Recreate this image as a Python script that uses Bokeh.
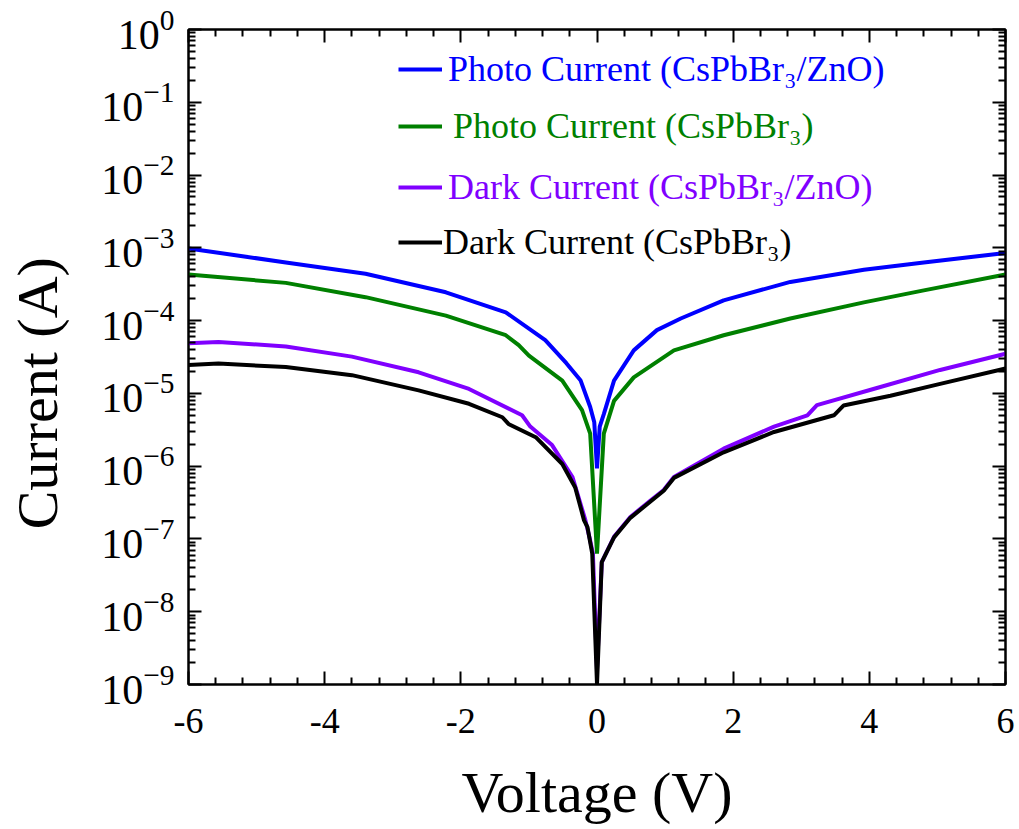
from bokeh.plotting import figure
from bokeh.models import (Range1d, LinearAxis, LogAxis, FixedTicker,
                          CustomJSTickFormatter, Legend, LegendItem)
from bokeh.embed import file_html
from bokeh.resources import INLINE

FONT = "Liberation Serif"

# ---------------- data ----------------
x_ticks = [-6, -4, -2, 0, 2, 4, 6]
x_minor = [-5.6, -5.2, -4.8, -4.4, -3.6, -3.2, -2.8, -2.4, -1.6, -1.2, -0.8, -0.4,
           0.4, 0.8, 1.2, 1.6, 2.4, 2.8, 3.2, 3.6, 4.4, 4.8, 5.2, 5.6]
y_ticks = [1e-9, 1e-8, 1e-7, 1e-6, 1e-5, 1e-4, 1e-3, 1e-2, 1e-1, 1e0]
y_minor = [m * 10.0 ** e for e in range(-9, 0) for m in range(2, 10)]

v_photo_zno = [-6.0, -4.57, -3.40, -2.22, -1.34, -0.76, -0.45, -0.24, -0.10, -0.04,
               0.0, 0.04, 0.10, 0.25, 0.54, 0.88, 1.23, 1.86, 2.84, 3.92, 4.80, 6.0]
i_photo_zno = [9.8e-4, 6.3e-4, 4.4e-4, 2.45e-4, 1.3e-4, 5.4e-5, 2.6e-5, 1.5e-5, 6.5e-6, 4.0e-6,
               9.3e-7, 3.5e-6, 5.2e-6, 1.5e-5, 3.9e-5, 7.4e-5, 1.07e-4, 1.9e-4, 3.4e-4, 5.0e-4, 6.3e-4, 8.5e-4]

v_photo = [-6.0, -4.57, -3.40, -2.22, -1.34, -1.15, -1.00, -0.51, -0.22, -0.10,
           0.0, 0.10, 0.25, 0.54, 1.13, 1.86, 2.84, 3.92, 4.80, 6.0]
i_photo = [4.3e-4, 3.3e-4, 2.1e-4, 1.17e-4, 6.3e-5, 4.6e-5, 3.3e-5, 1.5e-5, 5.9e-6, 2.8e-6,
           6.3e-8, 2.8e-6, 7.9e-6, 1.66e-5, 3.9e-5, 6.3e-5, 1.07e-4, 1.78e-4, 2.6e-4, 4.3e-4]

v_dark_zno = [-6.0, -5.56, -4.57, -3.60, -2.62, -1.88, -1.10, -0.98, -0.66, -0.36, -0.17,
              -0.10, -0.06, 0.0, 0.07, 0.25, 0.49, 0.79, 0.98, 1.13, 1.86, 2.60, 3.09, 3.23,
              4.06, 5.04, 6.0]
i_dark_zno = [4.9e-5, 5.1e-5, 4.4e-5, 3.2e-5, 1.95e-5, 1.15e-5, 5.0e-6, 3.5e-6, 1.95e-6, 7.1e-7, 1.8e-7,
              9.5e-8, 6.3e-8, 1.6e-9, 4.8e-8, 1.07e-7, 2.0e-7, 3.4e-7, 4.7e-7, 7.1e-7, 1.74e-6, 3.5e-6,
              5.0e-6, 6.9e-6, 1.15e-5, 2.1e-5, 3.5e-5]

v_dark = [-6.0, -5.56, -4.57, -3.60, -2.62, -1.88, -1.39, -1.30, -0.90, -0.51, -0.32, -0.19,
          -0.14, -0.07, 0.0, 0.07, 0.25, 0.49, 0.98, 1.13, 1.86, 2.60, 3.48, 3.62, 4.31, 5.04, 6.0]
i_dark = [2.45e-5, 2.57e-5, 2.3e-5, 1.78e-5, 1.1e-5, 7.2e-6, 4.7e-6, 3.8e-6, 2.5e-6, 1.07e-6, 5.1e-7,
          1.8e-7, 1.45e-7, 6.3e-8, 1.0e-9, 4.8e-8, 1.05e-7, 1.95e-7, 4.6e-7, 6.9e-7, 1.55e-6, 2.95e-6,
          5.0e-6, 6.8e-6, 9.3e-6, 1.35e-5, 2.2e-5]

series = [
    ("Photo Current (CsPbBr\u2083/ZnO)", v_photo_zno, i_photo_zno, "#0000ff"),
    ("Photo Current (CsPbBr\u2083)", v_photo, i_photo, "#008000"),
    ("Dark Current (CsPbBr\u2083/ZnO)", v_dark_zno, i_dark_zno, "#8000ff"),
    ("Dark Current (CsPbBr\u2083)", v_dark, i_dark, "#000000"),
]

# ---------------- figure ----------------
p = figure(width=1019, height=829, x_range=Range1d(-6, 6), y_range=Range1d(1e-9, 1),
           y_axis_type="log", output_backend="svg", toolbar_location=None,
           min_border_left=188, min_border_right=14, min_border_top=29, min_border_bottom=145)
p.xgrid.visible = False
p.ygrid.visible = False
p.outline_line_color = "black"
p.outline_line_width = 2
p.background_fill_color = "white"
p.border_fill_color = "white"

xa = p.below[0]
ya = p.left[0]

top_axis = LinearAxis(formatter=CustomJSTickFormatter(code="return ''"))
right_axis = LogAxis(formatter=CustomJSTickFormatter(code="return ''"))
p.add_layout(top_axis, "above")
p.add_layout(right_axis, "right")

xt = FixedTicker(ticks=x_ticks, minor_ticks=x_minor)
yt = FixedTicker(ticks=y_ticks, minor_ticks=y_minor)
for ax in [xa, top_axis]:
    ax.ticker = xt
for ax in [ya, right_axis]:
    ax.ticker = yt

for ax in [xa, top_axis, ya, right_axis]:
    ax.axis_line_width = 2
    ax.axis_line_color = "black"
    ax.major_tick_in = 13
    ax.major_tick_out = 0
    ax.minor_tick_in = 7
    ax.minor_tick_out = 0
    ax.major_tick_line_width = 2
    ax.minor_tick_line_width = 2
    ax.major_tick_line_color = "black"
    ax.minor_tick_line_color = "black"
    ax.major_label_text_font = FONT
    ax.major_label_text_color = "black"
    ax.axis_label_text_font = FONT
    ax.axis_label_text_font_style = "normal"
    ax.axis_label_text_color = "black"

xa.formatter = CustomJSTickFormatter(code="return tick.toString()")
xa.major_label_text_font_size = "36px"
xa.major_label_standoff = 24
xa.axis_label = "Voltage (V)"
xa.axis_label_text_font_size = "58px"
xa.axis_label_standoff = 24

ya.major_label_text_font_size = "42px"
ya.major_label_standoff = 14
ya.axis_label = "Current (A)" + "\u00a0" * 5
ya.axis_label_text_font_size = "58px"
ya.axis_label_standoff = 28

top_axis.major_label_text_font_size = "1px"
right_axis.major_label_text_font_size = "1px"
top_axis.major_label_standoff = 0
right_axis.major_label_standoff = 0

# ---------------- curves + legends ----------------
leg_bottoms = [594, 537, 476, 421]
leg_standoff = [6, 11, 6, 1]
for (label, v, i, c), lb, ls in zip(series, leg_bottoms, leg_standoff):
    r = p.line(v, i, line_color=c, line_width=4)
    lg = Legend(items=[LegendItem(label=label, renderers=[r])], location=(210, lb),
                padding=0, margin=0, spacing=0, border_line_color=None,
                background_fill_alpha=0, label_text_font=FONT, label_text_font_size="36px",
                label_text_color=c, glyph_width=44, glyph_height=40, label_height=40,
                label_standoff=ls)
    p.add_layout(lg)

open("out.html", "w").write(file_html(p, INLINE))
